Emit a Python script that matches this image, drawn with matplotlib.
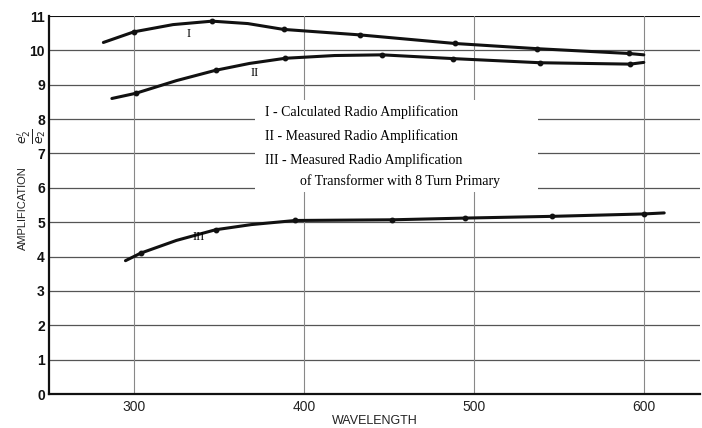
import matplotlib.pyplot as plt
from matplotlib.patches import Rectangle

# curve I - calculated radio amplification
wl_1 = [282, 300, 323, 346, 367, 388, 433, 489, 537, 591, 600]
amp_1 = [10.23, 10.54, 10.75, 10.85, 10.78, 10.61, 10.45, 10.20, 10.05, 9.91, 9.87]
marks_1 = [1, 3, 5, 6, 7, 8, 9]

# curve II - measured radio amplification
wl_2 = [287, 301, 325, 348, 368, 389, 418, 446, 488, 539, 592, 600]
amp_2 = [8.60, 8.75, 9.12, 9.42, 9.62, 9.77, 9.85, 9.87, 9.76, 9.64, 9.60, 9.65]
marks_2 = [1, 3, 5, 7, 8, 9, 10]

# curve III - 8 turn primary transformer
wl_3 = [295, 304, 325, 348, 369, 395, 452, 495, 546, 600, 612]
amp_3 = [3.88, 4.10, 4.47, 4.78, 4.93, 5.05, 5.07, 5.12, 5.17, 5.24, 5.27]
marks_3 = [1, 3, 5, 6, 7, 8, 9]

legend_lines = ["I - Calculated Radio Amplification",
                "II - Measured Radio Amplification",
                "III - Measured Radio Amplification"]
legend_extra = "of Transformer with 8 Turn Primary"

x_ticks = [300, 400, 500, 600]
y_ticks = list(range(0, 12))


def main():
    fig = plt.figure(figsize=(7.02, 4.28), dpi=100)
    ax = fig.add_axes([0.0698, 0.0794, 0.9272, 0.8832])
    ax.set_xlim(250, 633)
    ax.set_ylim(0, 11)

    for s in ["right", "top"]:
        ax.spines[s].set_visible(False)
    for s in ["left", "bottom"]:
        ax.spines[s].set_linewidth(1.6)
        ax.spines[s].set_color("#111111")

    # grid
    for y in range(1, 11):
        ax.axhline(y, color="#555555", lw=0.9, zorder=1)
    ax.axhline(11, color="#111111", lw=1.5, zorder=1)
    for x in x_ticks:
        ax.plot([x, x], [0, 11], color="#888888", lw=0.8, zorder=1)

    # white area behind the key
    ax.add_patch(Rectangle((371, 5.87), 166.6, 2.68, facecolor="white",
                           edgecolor="none", zorder=2))

    for wl, amp, mk in [(wl_1, amp_1, marks_1), (wl_2, amp_2, marks_2),
                        (wl_3, amp_3, marks_3)]:
        ax.plot(wl, amp, color="#111111", lw=2.2, solid_capstyle="round",
                solid_joinstyle="round", zorder=3)
        ax.plot([wl[i] for i in mk], [amp[i] for i in mk], "o",
                color="#111111", ms=3.2, zorder=4)

    serif = "Liberation Serif"
    ax.text(332, 10.47, "I", family=serif, fontsize=9, ha="center",
            va="center", zorder=5)
    ax.text(371, 9.33, "II", family=serif, fontsize=9, ha="center",
            va="center", zorder=5)
    ax.text(338, 4.56, "III", family=serif, fontsize=9, ha="center",
            va="center", zorder=5)

    for txt, y in zip(legend_lines, [8.20, 7.50, 6.80]):
        ax.text(377, y, txt, family=serif, fontsize=10, ha="left",
                va="center", zorder=5)
    ax.text(397.6, 6.19, legend_extra, family=serif, fontsize=10, ha="left",
            va="center", zorder=5)

    ax.set_xticks(x_ticks)
    ax.set_yticks(y_ticks)
    ax.set_xticklabels([str(x) for x in x_ticks], family="Liberation Sans",
                       fontsize=10, color="#222222")
    ax.set_yticklabels([str(y) for y in y_ticks], family="Liberation Sans",
                       fontsize=10, fontweight="bold", color="#111111")
    ax.tick_params(axis="x", length=0, pad=4)
    ax.tick_params(axis="y", length=0, pad=3)

    ax.set_xlabel("WAVELENGTH", family="Liberation Sans", fontsize=9,
                  color="#222222", labelpad=1)
    fig.text(0.033, 1 - 208 / 428, "AMPLIFICATION", family="Liberation Sans",
             fontsize=8, rotation=90, ha="center", va="center",
             color="#222222")
    fig.text(0.045, 1 - 136 / 428, r"$\frac{e_2'}{e_2}$", fontsize=13,
             rotation=90, ha="center", va="center", color="#222222")

    fig.savefig("out.png", dpi=100)


if __name__ == "__main__":
    main()
